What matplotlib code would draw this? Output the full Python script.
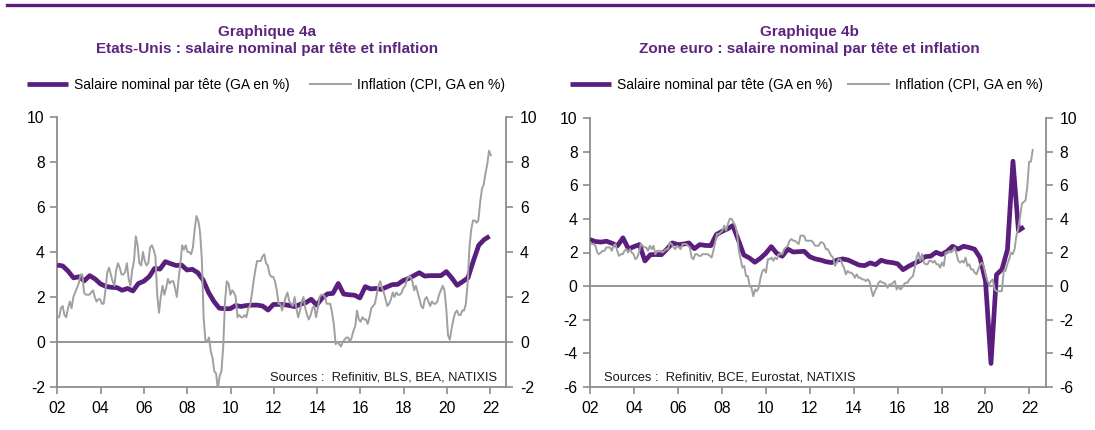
import numpy as np
import matplotlib
matplotlib.use("Agg")
import matplotlib.pyplot as plt
from matplotlib.lines import Line2D

plt.rcParams['font.family'] = ['Liberation Sans', 'DejaVu Sans']
plt.rcParams['axes.unicode_minus'] = False

# ---------------- data ----------------
# US: nominal wage per head (quarterly, Q1 2002 .. Q1 2022), % y/y
us_wage = [3.42, 3.38, 3.15, 2.85, 2.90, 2.72, 2.95, 2.80, 2.58, 2.47, 2.43, 2.42,
           2.30, 2.38, 2.27, 2.60, 2.70, 2.90, 3.27, 3.24, 3.57, 3.48, 3.40, 3.42,
           3.20, 3.23, 3.08, 2.75, 2.20, 1.80, 1.50, 1.48, 1.48, 1.62, 1.58, 1.62,
           1.64, 1.64, 1.60, 1.42, 1.67, 1.67, 1.66, 1.62, 1.57, 1.68, 1.75, 1.90,
           1.64, 1.95, 2.14, 2.16, 2.60, 2.13, 2.10, 2.08, 1.96, 2.46, 2.36, 2.38,
           2.34, 2.45, 2.55, 2.56, 2.73, 2.82, 2.95, 3.08, 2.93, 2.95, 2.95, 2.95,
           3.13, 2.85, 2.52, 2.68, 2.85, 3.60, 4.30, 4.55, 4.70]
# US: CPI inflation (monthly, Jan 2002 .. Apr 2022), % y/y
us_cpi = [1.1, 1.1, 1.5, 1.6, 1.2, 1.1, 1.5, 1.8, 1.5, 2.0, 2.2, 2.4,
          2.6, 3.0, 3.0, 2.2, 2.1, 2.1, 2.1, 2.2, 2.3, 2.0, 1.8, 1.9,
          1.9, 1.7, 1.7, 2.3, 3.1, 3.3, 3.0, 2.7, 2.5, 3.2, 3.5, 3.3,
          3.0, 3.0, 3.1, 3.5, 2.8, 2.5, 3.2, 3.6, 4.7, 4.3, 3.5, 3.4,
          4.0, 3.6, 3.4, 3.5, 4.2, 4.3, 4.1, 3.8, 2.1, 1.3, 2.0, 2.5,
          2.1, 2.4, 2.8, 2.6, 2.7, 2.7, 2.4, 2.0, 2.8, 3.5, 4.3, 4.1,
          4.3, 4.0, 4.0, 3.9, 4.2, 5.0, 5.6, 5.4, 4.9, 3.7, 1.1, 0.1,
          0.0, 0.2, -0.4, -0.7, -1.3, -1.4, -2.1, -1.5, -1.3, -0.2, 1.8, 2.7,
          2.6, 2.1, 2.3, 2.2, 2.0, 1.1, 1.2, 1.1, 1.1, 1.2, 1.1, 1.5,
          1.6, 2.1, 2.7, 3.2, 3.6, 3.6, 3.6, 3.8, 3.9, 3.5, 3.4, 3.0,
          2.9, 2.9, 2.7, 2.3, 1.7, 1.7, 1.4, 1.7, 2.0, 2.2, 1.8, 1.7,
          1.6, 2.0, 1.5, 1.1, 1.4, 1.8, 2.0, 1.5, 1.2, 1.0, 1.2, 1.5,
          1.6, 1.1, 1.5, 2.0, 2.1, 2.1, 2.0, 1.7, 1.7, 1.7, 1.3, 0.8,
          -0.1, 0.0, -0.1, -0.2, 0.0, 0.1, 0.2, 0.2, 0.0, 0.2, 0.5, 0.7,
          1.4, 1.0, 0.9, 1.1, 1.0, 1.0, 0.8, 1.1, 1.5, 1.6, 1.7, 2.1,
          2.5, 2.7, 2.4, 2.2, 1.9, 1.6, 1.7, 1.9, 2.2, 2.0, 2.2, 2.1,
          2.1, 2.2, 2.4, 2.5, 2.8, 2.9, 2.9, 2.7, 2.3, 2.5, 2.2, 1.9,
          1.6, 1.5, 1.9, 2.0, 1.8, 1.6, 1.8, 1.7, 1.7, 1.8, 2.1, 2.3,
          2.5, 2.3, 1.5, 0.3, 0.1, 0.6, 1.0, 1.3, 1.4, 1.2, 1.2, 1.4,
          1.4, 1.7, 2.6, 4.2, 5.0, 5.4, 5.4, 5.3, 5.4, 6.2, 6.8, 7.0,
          7.5, 7.9, 8.5, 8.3]

# Euro area: compensation per employee (quarterly, Q1 2002 .. Q4 2021), % y/y
ez_wage = [2.77, 2.65, 2.62, 2.67, 2.55, 2.40, 2.87, 2.21, 2.35, 2.47, 1.50, 1.87,
           1.88, 1.87, 2.20, 2.57, 2.47, 2.50, 2.57, 2.23, 2.47, 2.42, 2.41, 3.07,
           3.25, 3.40, 3.60, 2.75, 1.85, 1.68, 1.42, 1.65, 1.95, 2.35, 1.95, 1.78,
           2.20, 2.03, 2.05, 2.07, 1.75, 1.62, 1.55, 1.45, 1.40, 1.55, 1.62, 1.55,
           1.40, 1.25, 1.22, 1.38, 1.28, 1.54, 1.44, 1.40, 1.33, 0.98, 1.18, 1.35,
           1.50, 1.75, 1.78, 2.01, 1.88, 2.07, 2.37, 2.20, 2.37, 2.30, 2.20, 1.70,
           0.30, -4.60, 0.68, 1.00, 2.17, 7.43, 3.30, 3.52]
# Euro area: HICP inflation (monthly, Jan 2002 .. May 2022), % y/y
ez_cpi = [2.6, 2.5, 2.5, 2.4, 2.0, 1.9, 2.0, 2.1, 2.1, 2.3, 2.3, 2.3,
          2.1, 2.4, 2.5, 2.1, 1.8, 1.9, 1.9, 2.1, 2.2, 2.0, 2.2, 2.0,
          1.9, 1.6, 1.7, 2.0, 2.5, 2.4, 2.3, 2.3, 2.1, 2.4, 2.2, 2.4,
          1.9, 2.1, 2.1, 2.1, 2.0, 2.1, 2.2, 2.2, 2.6, 2.5, 2.3, 2.2,
          2.4, 2.3, 2.2, 2.5, 2.5, 2.5, 2.4, 2.3, 1.7, 1.6, 1.9, 1.9,
          1.8, 1.8, 1.9, 1.9, 1.9, 1.9, 1.8, 1.7, 2.1, 2.6, 3.1, 3.1,
          3.2, 3.3, 3.6, 3.3, 3.7, 4.0, 4.0, 3.8, 3.6, 3.2, 2.1, 1.6,
          1.1, 1.2, 0.6, 0.6, 0.0, -0.1, -0.6, -0.2, -0.3, -0.1, 0.5, 0.9,
          1.0, 0.8, 1.6, 1.6, 1.7, 1.5, 1.7, 1.6, 1.9, 1.9, 1.9, 2.2,
          2.3, 2.4, 2.7, 2.8, 2.7, 2.7, 2.6, 2.5, 3.0, 3.0, 3.0, 2.7,
          2.7, 2.7, 2.7, 2.6, 2.4, 2.4, 2.4, 2.6, 2.6, 2.5, 2.2, 2.2,
          2.0, 1.8, 1.7, 1.2, 1.4, 1.6, 1.6, 1.3, 1.1, 0.7, 0.9, 0.8,
          0.8, 0.7, 0.5, 0.7, 0.5, 0.5, 0.4, 0.4, 0.3, 0.4, 0.3, -0.2,
          -0.6, -0.3, -0.1, 0.2, 0.3, 0.2, 0.2, 0.1, -0.1, 0.1, 0.1, 0.2,
          0.3, -0.2, 0.0, -0.2, -0.1, 0.1, 0.2, 0.2, 0.4, 0.5, 0.6, 1.1,
          1.7, 2.0, 1.5, 1.9, 1.4, 1.3, 1.3, 1.5, 1.5, 1.4, 1.5, 1.3,
          1.3, 1.1, 1.4, 1.2, 2.0, 2.0, 2.1, 2.0, 2.1, 2.3, 1.9, 1.5,
          1.4, 1.5, 1.4, 1.7, 1.2, 1.3, 1.0, 1.0, 0.8, 0.7, 1.0, 1.3,
          1.4, 1.2, 0.7, 0.3, 0.1, 0.3, 0.4, -0.2, -0.3, -0.3, -0.3, -0.3,
          0.9, 0.9, 1.3, 1.6, 2.0, 1.9, 2.2, 3.0, 3.4, 4.1, 4.9, 5.0,
          5.1, 5.9, 7.4, 7.4, 8.1]

x_ticks = [2002, 2004, 2006, 2008, 2010, 2012, 2014, 2016, 2018, 2020, 2022]
x_labels = ["02", "04", "06", "08", "10", "12", "14", "16", "18", "20", "22"]

wage_label = "Salaire nominal par tête (GA en %)"
infl_label = "Inflation (CPI, GA en %)"

# ---------------- style ----------------
PURPLE = '#5A1E7C'
TITLE_C = '#5C2580'
GRAY = '#A0A0A0'
AXC = '#8C8C8C'

fig = plt.figure(figsize=(10.95, 4.30), dpi=100)
W, H = 1095.0, 430.0


def panel(px_left, px_right, px_top, px_bottom, xmax, ylim, yticks,
          wage, wage_span, infl, infl_span, title_lines, title_cx,
          legend_x, colsp, source, source_xy, source_ha):
    ax = fig.add_axes([px_left / W, 1 - px_bottom / H,
                       (px_right - px_left) / W, (px_bottom - px_top) / H])
    ax.set_xlim(2002, xmax)
    ax.set_ylim(*ylim)
    xw = np.linspace(wage_span[0], wage_span[1], len(wage))
    xi = np.linspace(infl_span[0], infl_span[1], len(infl))
    ax.axhline(0, color=AXC, lw=1.3, zorder=1)
    lw_, = ax.plot(xw, wage, color=PURPLE, lw=3.4, solid_capstyle='butt',
                   solid_joinstyle='round', zorder=3, label=wage_label)
    li_, = ax.plot(xi, infl, color=GRAY, lw=1.4, zorder=4, label=infl_label)

    ax.set_xticks(x_ticks)
    ax.set_xticklabels(x_labels)
    ax.set_yticks(yticks)
    ax.set_yticklabels([str(v) for v in yticks])
    for s in ['top', 'right']:
        ax.spines[s].set_visible(False)
    for s in ['left', 'bottom']:
        ax.spines[s].set_color(AXC)
        ax.spines[s].set_linewidth(1.3)
    ax.tick_params(axis='x', direction='out', length=5, width=1.2, color=AXC,
                   labelsize=11.3, pad=5)
    ax.tick_params(axis='y', direction='out', length=5, width=1.2, color=AXC,
                   labelsize=11.3, pad=4)

    ax2 = ax.twinx()
    ax2.set_ylim(*ylim)
    ax2.set_yticks(yticks)
    ax2.set_yticklabels([str(v) for v in yticks])
    for s in ['top', 'left', 'bottom']:
        ax2.spines[s].set_visible(False)
    ax2.spines['right'].set_color(AXC)
    ax2.spines['right'].set_linewidth(1.3)
    ax2.tick_params(axis='y', direction='out', length=5, width=1.2, color=AXC,
                    labelsize=11.3, pad=5)

    # titles
    fig.text(title_cx / W, 1 - 32 / H, title_lines[0], ha='center', va='center',
             fontsize=11, fontweight='bold', color=TITLE_C)
    fig.text(title_cx / W, 1 - 49.5 / H, title_lines[1], ha='center', va='center',
             fontsize=11, fontweight='bold', color=TITLE_C)

    # legend
    fig.legend(handles=[lw_, li_], loc='center left',
               bbox_to_anchor=(legend_x / W, 1 - 85 / H), ncol=2, frameon=False,
               fontsize=10, handlelength=2.95, handletextpad=0.45,
               columnspacing=colsp, borderpad=0, borderaxespad=0)

    ax.text(source_xy[0] / W, 1 - source_xy[1] / H, source, transform=fig.transFigure,
            ha=source_ha, va='center', fontsize=9.3, color='#1a1a1a')
    return ax


panel(57.3, 506, 117, 387, 2022.72, (-2, 10), [-2, 0, 2, 4, 6, 8, 10],
      us_wage, (2002.0, 2021.96), us_cpi, (2002.0, 2022.02),
      ["Graphique 4a", "Etats-Unis : salaire nominal par tête et inflation"], 267,
      27, 1.45, "Sources :  Refinitiv, BLS, BEA, NATIXIS", (497, 377), 'right')

panel(590, 1045.7, 118, 387, 2022.74, (-6, 10), [-6, -4, -2, 0, 2, 4, 6, 8, 10],
      ez_wage, (2002.0, 2021.75), ez_cpi, (2002.0, 2022.15),
      ["Graphique 4b", "Zone euro : salaire nominal par tête et inflation"], 809,
      570, 1.1, "Sources :  Refinitiv, BCE, Eurostat, NATIXIS", (604, 377), 'left')

# top decorative rule
fig.add_artist(Line2D([7 / W, 1.0], [1 - 5 / H, 1 - 5 / H], transform=fig.transFigure,
                      color=PURPLE, lw=2.4))

fig.savefig("out.png", dpi=100)
